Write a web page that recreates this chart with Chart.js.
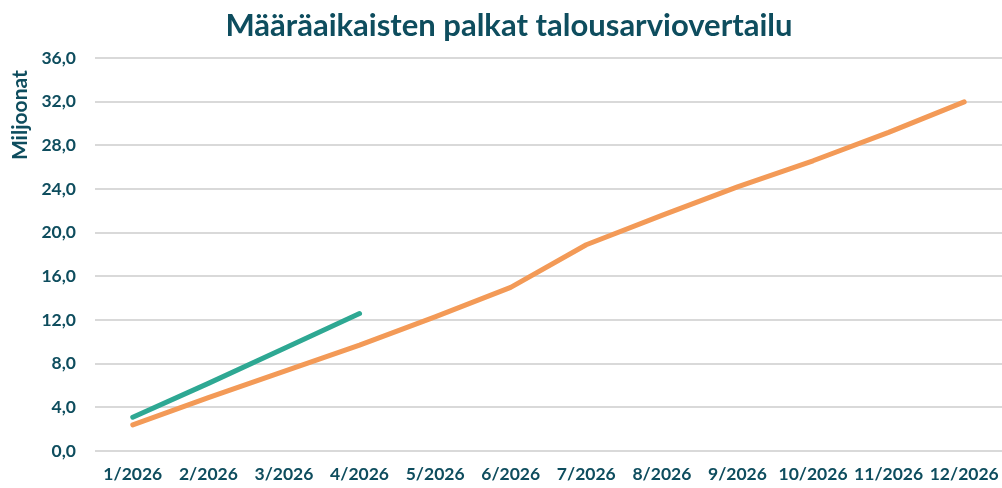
<!DOCTYPE html>
<html><head><meta charset="utf-8">
<script src="https://cdn.jsdelivr.net/npm/chart.js@4.4.1/dist/chart.umd.min.js"></script>
<style>html,body{margin:0;padding:0;background:#fff}#w{width:1002px;height:488px}</style>
</head><body><div id="w"><canvas id="c"></canvas></div>
<script>
const categories = ["1/2026","2/2026","3/2026","4/2026","5/2026","6/2026","7/2026","8/2026","9/2026","10/2026","11/2026","12/2026"];
const toteuma = [3.1, 6.2, 9.4, 12.6, null, null, null, null, null, null, null, null];
const budjetti = [2.4, 4.9, 7.3, 9.7, 12.3, 15.0, 18.9, 21.6, 24.2, 26.6, 29.2, 32.0];
const yTicks = [0,4,8,12,16,20,24,28,32,36];
const yTitle = 'Miljoonat';
const txt = "#0E4D5E";
const fontFam = "Lato, 'Open Sans', sans-serif";
const yTitlePlugin = {
  id: 'yTitle',
  afterDraw(chart) {
    const ctx = chart.ctx, ca = chart.chartArea;
    ctx.save();
    ctx.font = "bold 21px " + fontFam;
    ctx.fillStyle = txt;
    ctx.translate(20, ca.top + 12);
    ctx.rotate(-Math.PI / 2);
    ctx.textAlign = 'right';
    ctx.textBaseline = 'middle';
    ctx.fillText(yTitle, 0, 0);
    ctx.restore();
  }
};
new Chart(document.getElementById('c'), {
  type: 'line',
  data: { labels: categories, datasets: [
    { label: 'Budjetti', data: budjetti, borderColor: '#F39A57', borderWidth: 5, pointRadius: 0, borderCapStyle: 'round', borderJoinStyle: 'round', tension: 0 },
    { label: 'Toteuma', data: toteuma, borderColor: '#2EA893', borderWidth: 5, pointRadius: 0, borderCapStyle: 'round', borderJoinStyle: 'round', tension: 0, spanGaps: false }
  ]},
  plugins: [yTitlePlugin],
  options: {
    responsive: true, maintainAspectRatio: false, animation: false,
    layout: { padding: { left: 16, right: 0, top: 0, bottom: 0 } },
    plugins: {
      legend: { display: false }, tooltip: { enabled: false },
      title: { display: true, text: 'Määräaikaisten palkat talousarviovertailu', color: txt,
        font: { family: fontFam, size: 31, weight: 'bold' }, padding: { top: 7, bottom: 14 } }
    },
    scales: {
      x: { offset: true, grid: { display: false, drawTicks: false }, border: { display: false },
        ticks: { color: txt, font: { family: fontFam, size: 17.5, weight: 'bold' }, maxRotation: 0, autoSkip: false, padding: 13 },
        afterFit: s => { s.height = 37; s.paddingLeft = 0; s.paddingRight = 0; } },
      y: { min: 0, max: 36, afterBuildTicks: s => { s.ticks = yTicks.map(v => ({ value: v })); },
        grid: { color: '#D9D9D9', lineWidth: 2, drawTicks: false }, border: { display: false },
        ticks: { color: txt, padding: 19, font: { family: fontFam, size: 17.5, weight: 'bold' },
          callback: v => v.toFixed(1).replace('.', ',') },
        afterFit: s => { s.width = 79; } }
    }
  }
});
</script></body></html>
